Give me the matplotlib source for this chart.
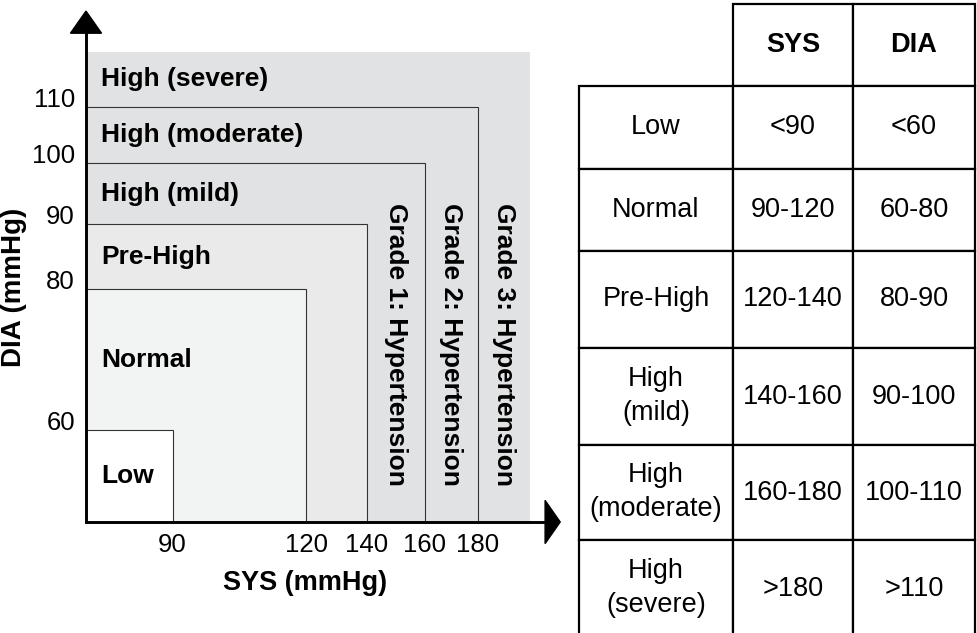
import numpy as np
import matplotlib.pyplot as plt
from matplotlib.patches import Rectangle, Polygon

plt.rcParams['font.family'] = ['Liberation Sans', 'DejaVu Sans']

# blood pressure categories and their upper limits
categories = ["Low", "Normal", "Pre-High", "High (mild)", "High (moderate)", "High (severe)"]
table_rows = ["Low", "Normal", "Pre-High", "High\n(mild)", "High\n(moderate)", "High\n(severe)"]
sys_cuts = [90, 120, 140, 160, 180]
dia_cuts = [60, 80, 90, 100, 110]
grades = ["Grade 1: Hypertension", "Grade 2: Hypertension", "Grade 3: Hypertension"]

# schematic axes: every band gets a fixed share of the axis length
sys_knots = [70] + sys_cuts + [200]
dia_knots = [50] + dia_cuts + [120]
band_pos = [0, 0.195, 0.496, 0.633, 0.763, 0.883, 1.0]
box_colors = ["white", "#f2f3f3", "#eaeaeb", "#e1e2e4", "#e1e2e4"]
bg_color = "#e1e2e4"


def band_scale(knots):
    fwd = lambda v: np.interp(v, knots, band_pos)
    inv = lambda f: np.interp(f, band_pos, knots)
    return fwd, inv


fig = plt.figure(figsize=(9.77, 6.33), dpi=100)
ax = fig.add_axes([86 / 977, 111 / 633, 444 / 977, 470 / 633])
ax.set_xscale('function', functions=band_scale(sys_knots))
ax.set_yscale('function', functions=band_scale(dia_knots))
ax.set_xlim(sys_knots[0], sys_knots[-1])
ax.set_ylim(dia_knots[0], dia_knots[-1])
ax.set_facecolor(bg_color)
for s in ax.spines.values():
    s.set_visible(False)

# nested boxes, largest first
for i in reversed(range(len(sys_cuts))):
    ax.add_patch(Rectangle((sys_knots[0], dia_knots[0]),
                           sys_cuts[i] - sys_knots[0], dia_cuts[i] - dia_knots[0],
                           facecolor=box_colors[i], edgecolor="#333333", lw=0.8, zorder=1))

# category names, centred in their band
for i, name in enumerate(categories):
    yc = (band_pos[i] + band_pos[i + 1]) / 2
    ax.text(0.034, yc, name, transform=ax.transAxes, fontsize=19, fontweight='bold',
            ha='left', va='center', zorder=3)

for k, g in enumerate(grades):
    xc = (band_pos[k + 3] + band_pos[k + 4]) / 2
    ax.text(xc, 0.679, g, transform=ax.transAxes, rotation=-90, fontsize=19,
            fontweight='bold', ha='center', va='top', zorder=3)

ax.set_xticks(sys_cuts, labels=[str(v) for v in sys_cuts])
ax.set_yticks(dia_cuts, labels=[str(v) for v in dia_cuts], va='baseline')
ax.tick_params(axis='both', length=0, labelsize=18.5)
ax.tick_params(axis='x', pad=8)
ax.tick_params(axis='y', pad=8)

ax.set_xlabel("SYS (mmHg)", fontsize=19.5, fontweight='bold')
ax.xaxis.set_label_coords(0.493, -61 / 470)
ax.xaxis.label.set_va('center')
ax.set_ylabel("DIA (mmHg)", fontsize=20, fontweight='bold')
ax.yaxis.set_label_coords(-72 / 444, 0.5)
ax.yaxis.label.set_va('center')

# axis lines with arrow heads
ax.plot([0, 0, 1.035], [1.045, 0, 0], transform=ax.transAxes, color='black', lw=2.1,
        clip_on=False, zorder=5, solid_joinstyle='miter')
ax.add_patch(Polygon([[-0.035, 1.040], [0.035, 1.040], [0, 1.087]], closed=True,
                     transform=ax.transAxes, color='black', clip_on=False, zorder=5))
ax.add_patch(Polygon([[1.034, -0.046], [1.034, 0.046], [1.068, 0]], closed=True,
                     transform=ax.transAxes, color='black', clip_on=False, zorder=5))

# reference table
sys_txt = [f"<{sys_cuts[0]}"] + [f"{a}-{b}" for a, b in zip(sys_cuts[:-1], sys_cuts[1:])] + [f">{sys_cuts[-1]}"]
dia_txt = [f"<{dia_cuts[0]}"] + [f"{a}-{b}" for a, b in zip(dia_cuts[:-1], dia_cuts[1:])] + [f">{dia_cuts[-1]}"]
cell_text = [["", "SYS", "DIA"]] + [[r, s, d] for r, s, d in zip(table_rows, sys_txt, dia_txt)]
row_h = [82, 83, 82, 97, 97, 95, 97]

tab_ax = fig.add_axes([579 / 977, -4 / 633, 396 / 977, 1.0])
tab_ax.axis('off')
tbl = tab_ax.table(cellText=cell_text, colWidths=[154 / 396, 120 / 396, 122 / 396],
                   cellLoc='center', bbox=[0, 0, 1, 1])
tbl.auto_set_font_size(False)
tbl.set_fontsize(19.5)
for (r, c), cell in tbl.get_celld().items():
    cell.set_height(row_h[r] / sum(row_h))
    cell.set_linewidth(1.6)
    cell.set_edgecolor('black')
    cell.get_text().set_linespacing(1.4)
tbl[0, 0].visible_edges = ''
tbl[0, 1].get_text().set_fontweight('bold')
tbl[0, 2].get_text().set_fontweight('bold')

fig.savefig("out.png", dpi=100)
